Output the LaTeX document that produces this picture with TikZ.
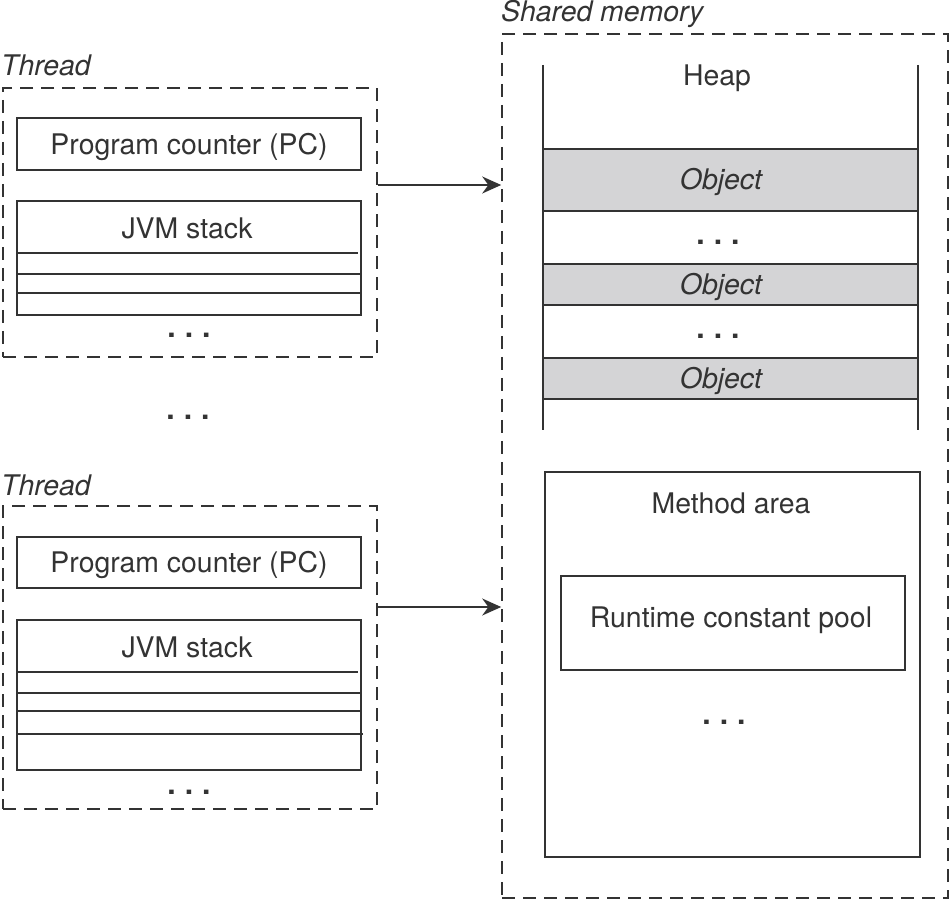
\documentclass[tikz,border=0pt]{standalone}
\usepackage{fontspec}
\setmainfont{TeX Gyre Heros}
\usetikzlibrary{arrows.meta}
\definecolor{ink}{HTML}{333333}
\definecolor{objgray}{HTML}{D4D4D6}
\tikzset{
  txt/.style={text=ink, font=\fontsize{28.4}{34}\selectfont, inner sep=0pt},
  itxt/.style={txt, font=\fontsize{28.4}{34}\selectfont\itshape},
  box/.style={draw=ink, line width=1.8pt, inner sep=0pt},
  dbox/.style={draw=ink, line width=1.6pt, dash pattern=on 13pt off 8pt, inner sep=0pt},
  objbox/.style={box, fill=objgray},
  ln/.style={draw=ink, line width=1.8pt},
  arr/.style={draw=ink, line width=1.8pt, -{Stealth[length=19pt,width=17pt]}},
  dots/.style={text=ink, font=\fontsize{30}{34}\selectfont\bfseries, inner sep=0pt}
}
\newcommand{\mydots}{.\hspace{9pt}.\hspace{9pt}.}
\begin{document}
\begin{tikzpicture}[x=1pt,y=-1pt]
\useasboundingbox (0,0) rectangle (951,901);

% ---------- Thread 1 ----------
\node[dbox, minimum width=374pt, minimum height=269pt] (thread1) at (190,222.5) {};
\node[itxt, anchor=base west] (thread1lbl) at (1,76) {Thread};
\node[box, minimum width=344pt, minimum height=52pt, txt] (pc1) at (189,144) {};
\node[txt] (pc1lbl) at (189,147) {Program counter (PC)};
\node[box, minimum width=344pt, minimum height=114pt] (stack1) at (189,258) {};
\node[txt] (stack1lbl) at (187,228) {JVM stack};
\coordinate (s1a) at (17,253); \coordinate (s1ae) at (358,253);
\coordinate (s1b) at (17,274); \coordinate (s1c) at (17,293);
\draw[ln] (s1a) -- (s1ae);
\draw[ln] (s1b) -- (stack1.east |- s1b);
\draw[ln] (s1c) -- (stack1.east |- s1c);
\node[dots] (dots1) at (189,335) {\mydots};

\node[dots] (dotsmid) at (188,417) {\mydots};

% ---------- Thread 2 ----------
\node[dbox, minimum width=374pt, minimum height=303pt] (thread2) at (190,657.5) {};
\node[itxt, anchor=base west] (thread2lbl) at (1,495) {Thread};
\node[box, minimum width=344pt, minimum height=51pt] (pc2) at (189,562.5) {};
\node[txt] (pc2lbl) at (189,565) {Program counter (PC)};
\node[box, minimum width=344pt, minimum height=150pt] (stack2) at (189,695) {};
\node[txt] (stack2lbl) at (187,647) {JVM stack};
\coordinate (s2a) at (17,672); \coordinate (s2ae) at (358,672);
\coordinate (s2b) at (17,693); \coordinate (s2c) at (17,711);
\coordinate (s2d) at (17,734); \coordinate (s2de) at (363,734);
\draw[ln] (s2a) -- (s2ae);
\draw[ln] (s2b) -- (stack2.east |- s2b);
\draw[ln] (s2c) -- (stack2.east |- s2c);
\draw[ln] (s2d) -- (s2de);
\node[dots] (dots2) at (189,792) {\mydots};

% ---------- Shared memory ----------
\node[dbox, minimum width=446pt, minimum height=864pt] (shared) at (725,466) {};
\node[itxt, anchor=base west] (sharedlbl) at (501,22) {Shared memory};

% Heap
\node[minimum width=375pt, minimum height=365pt, inner sep=0pt] (heap) at (730.5,247.5) {};
\draw[ln] (heap.north west) -- (heap.south west);
\draw[ln] (heap.north east) -- (heap.south east);
\node[txt] (heaplbl) at (717,78) {Heap};

\node[objbox, minimum width=375pt, minimum height=62pt] (obj1) at (730.5,180) {};
\node[itxt] (obj1lbl) at (721,182) {Object};
\node[dots] (hdots1) at (718,242) {\mydots};
\node[objbox, minimum width=375pt, minimum height=41pt] (obj2) at (730.5,284.5) {};
\node[itxt] (obj2lbl) at (721,286.5) {Object};
\node[dots] (hdots2) at (718,336) {\mydots};
\node[objbox, minimum width=375pt, minimum height=41pt] (obj3) at (730.5,378.5) {};
\node[itxt] (obj3lbl) at (721,380.5) {Object};

% Method area
\node[box, minimum width=375pt, minimum height=385pt] (method) at (732.5,664.5) {};
\node[txt] (methodlbl) at (731,503) {Method area};
\node[box, minimum width=344pt, minimum height=94pt] (pool) at (733,623) {};
\node[txt] (poollbl) at (731,620) {Runtime constant pool};
\node[dots] (mdots) at (724,722) {\mydots};

% ---------- Arrows ----------
\coordinate (a1) at (0,185);
\coordinate (a2) at (0,607);
\draw[arr] (thread1.east |- a1) -- (shared.west |- a1);
\draw[arr] (thread2.east |- a2) -- (shared.west |- a2);
\end{tikzpicture}
\end{document}
